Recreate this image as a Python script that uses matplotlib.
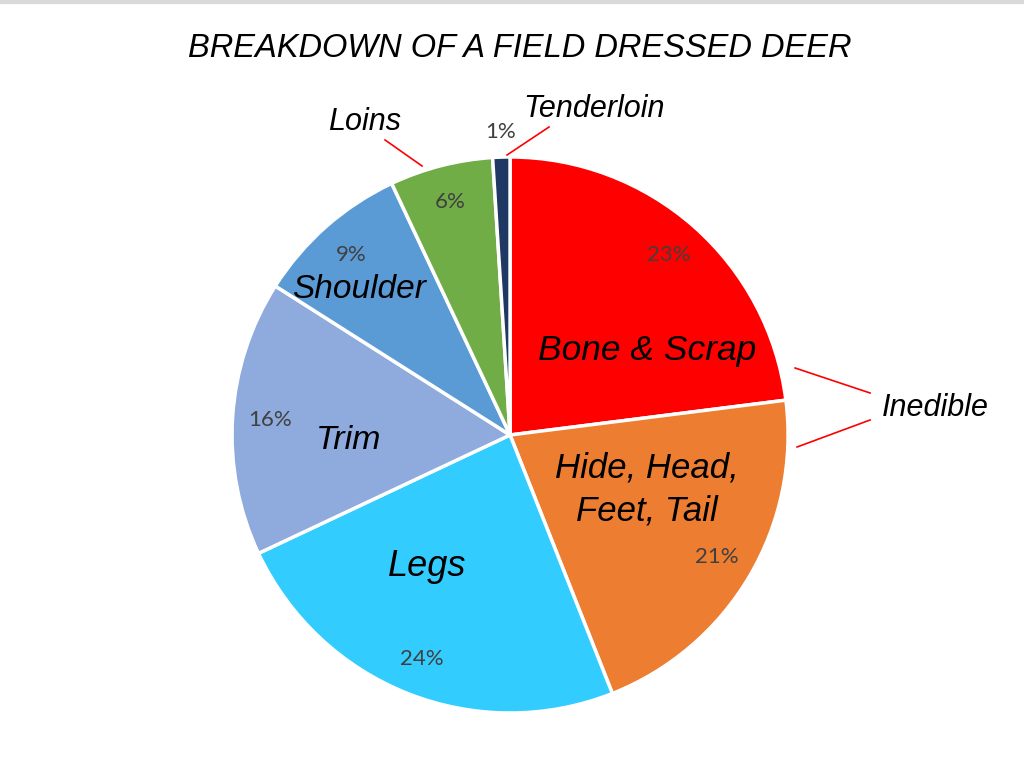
import numpy as np
import matplotlib
matplotlib.use("Agg")
import matplotlib.pyplot as plt
from matplotlib.lines import Line2D

# data
parts = ['Bone & Scrap', 'Hide, Head,\nFeet, Tail', 'Legs', 'Trim', 'Shoulder', 'Loins', 'Tenderloin']
shares = [23, 21, 24, 16, 9, 6, 1]
colors = ['#FF0000', '#ED7D31', '#33CCFF', '#8FAADC', '#5B9BD5', '#70AD47', '#1F3864']
title = 'BREAKDOWN OF A FIELD DRESSED DEER'
group_label = 'Inedible'

# where each category name sits (angle in degrees, radius as fraction of pie radius)
name_pos = [(31.8, 0.58), (-21.7, 0.53), (-122.2, 0.56), (181.8, 0.58),
            (136.0, 0.755), (114.9, 1.24), (75.5, 1.21)]
name_size = [25.5, 25, 26, 24.5, 24, 22, 22]

plt.rcParams['font.family'] = ['Liberation Sans', 'DejaVu Sans']

fig = plt.figure(figsize=(10.24, 7.68), dpi=100)
fig.patch.set_facecolor('white')
fig.add_artist(Line2D([0, 1], [0.998, 0.998], transform=fig.transFigure,
                      color='#D9D9D9', linewidth=3))

ax = fig.add_axes([0.2266, 0.0716, 0.543, 0.724])
wedges, _ = ax.pie(shares, colors=colors, startangle=90, counterclock=False,
                   radius=1.0, wedgeprops=dict(edgecolor='white', linewidth=2.5))
ax.set_xlim(-1, 1)
ax.set_ylim(-1, 1)
ax.set_aspect('equal')
ax.axis('off')

# percentage labels at wedge mid-angles
for w, s in zip(wedges, shares):
    mid = np.deg2rad((w.theta1 + w.theta2) / 2)
    r = 0.865 if s > 2 else 1.09
    ax.text(r * np.cos(mid), r * np.sin(mid), f'{s}%', ha='center', va='center',
            fontsize=16, color='#404040', family=['Lato', 'DejaVu Sans'])

# category names
for name, (ang, r), fs in zip(parts, name_pos, name_size):
    a = np.deg2rad(ang)
    ax.text(r * np.cos(a), r * np.sin(a), name, ha='center', va='center',
            fontsize=fs, style='italic', color='black',
            linespacing=1.4, clip_on=False)

# leader lines
def pie_xy(px, py):
    return (px - 510) / 278, (435 - py) / 278

leaders = [((385, 140), (422, 166)), ((549, 127), (507, 155)),
           ((795, 368), (870, 393)), ((797, 447), (870, 420))]
for p0, p1 in leaders:
    x0, y0 = pie_xy(*p0)
    x1, y1 = pie_xy(*p1)
    ax.plot([x0, x1], [y0, y1], color='#FF0000', linewidth=1.2, clip_on=False)

gx, gy = pie_xy(935, 408)
ax.text(gx, gy, group_label, ha='center', va='center', fontsize=22,
        style='italic', color='black', clip_on=False)

fig.text(0.508, 0.937, title, ha='center', va='center', fontsize=23.5,
         style='italic', color='black')

fig.savefig('out.png', dpi=100)
